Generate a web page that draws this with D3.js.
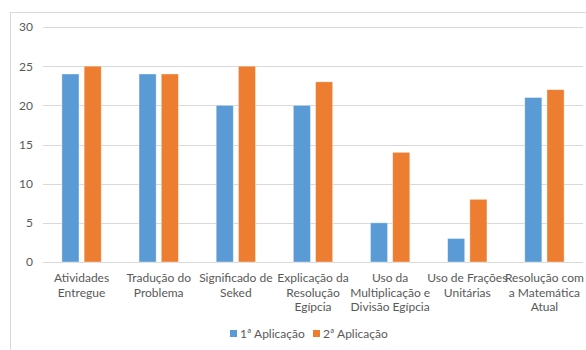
<!DOCTYPE html>
<html>
<head>
<meta charset="utf-8">
<script src="https://cdn.jsdelivr.net/npm/d3@7"></script>
<style>
  html, body { margin: 0; padding: 0; background: #fff; }
  svg { display: block; }
  text { font-family: Lato, "Open Sans", sans-serif; fill: #595959; }
</style>
</head>
<body>
<svg id="chart" width="586" height="350"></svg>
<script>
// Category labels (line breaks as displayed on the axis)
const categories = [
  ["Atividades", "Entregue"],
  ["Tradução do", "Problema"],
  ["Significado de", "Seked"],
  ["Explicação da", "Resolução", "Egípcia"],
  ["Uso da", "Multiplicação e", "Divisão Egípcia"],
  ["Uso de Frações", "Unitárias"],
  ["Resolução com", "a Matemática", "Atual"]
];
const seriesNames = ["1ª Aplicação", "2ª Aplicação"];
const aplicacao1 = [24, 24, 20, 20, 5, 3, 21];
const aplicacao2 = [25, 24, 25, 23, 14, 8, 22];
const yTicks = [0, 5, 10, 15, 20, 25, 30];
const colors = ["#5B9BD5", "#ED7D31"];

const svg = d3.select("#chart");
const W = 586, H = 350;
const margin = { left: 43, right: 3, top: 27, bottom: 88 };

// Chart frame
svg.append("rect")
  .attr("x", 10.5).attr("y", 12.5)
  .attr("width", W + 20).attr("height", H + 20)
  .attr("fill", "#fff").attr("stroke", "#D9D9D9").attr("stroke-width", 1);

const idx = d3.range(categories.length);
const x = d3.scaleBand().domain(idx).range([margin.left, W - margin.right])
  .paddingInner(0.49).paddingOuter(0.245);
const xs = d3.scaleBand().domain([0, 1]).range([0, x.bandwidth()]).paddingInner(0.23);
const y = d3.scaleLinear().domain([0, 30]).range([H - margin.bottom, margin.top]);

// Gridlines
svg.append("g").selectAll("line").data(yTicks).join("line")
  .attr("x1", margin.left).attr("x2", W - margin.right)
  .attr("y1", d => Math.round(y(d)) + 0.5).attr("y2", d => Math.round(y(d)) + 0.5)
  .attr("stroke", "#D9D9D9").attr("stroke-width", 1);

// Y tick labels
const yAxis = d3.axisLeft(y).tickValues(yTicks).tickSize(0).tickPadding(0);
const gy = svg.append("g").attr("transform", `translate(${margin.left - 10},0)`).call(yAxis);
gy.select(".domain").remove();
gy.selectAll("text").attr("font-size", 12).attr("fill", "#595959")
  .style("font-family", "Lato, 'Open Sans', sans-serif");

// Bars
const series = [aplicacao1, aplicacao2];
series.forEach((vals, s) => {
  svg.append("g").selectAll("rect").data(vals).join("rect")
    .attr("x", (d, i) => x(i) + xs(s))
    .attr("width", xs.bandwidth())
    .attr("y", d => y(d))
    .attr("height", d => y(0) - y(d))
    .attr("fill", colors[s])
    .attr("stroke", "#fff").attr("stroke-opacity", 0.5).attr("stroke-width", 0.75);
});

// X axis labels
const gx = svg.append("g");
categories.forEach((lines, i) => {
  const t = gx.append("text")
    .attr("x", x(i) + x.bandwidth() / 2)
    .attr("y", y(0) + 20)
    .attr("text-anchor", "middle")
    .attr("font-size", 12);
  lines.forEach((ln, k) => {
    t.append("tspan").attr("x", x(i) + x.bandwidth() / 2)
      .attr("dy", k === 0 ? 0 : 14.7).text(ln);
  });
});

// Legend
const legend = svg.append("g");
const legendItems = [{ x: 230 }, { x: 313 }];
seriesNames.forEach((name, s) => {
  const lx = legendItems[s].x;
  legend.append("rect").attr("x", lx).attr("y", 330)
    .attr("width", 7).attr("height", 7).attr("fill", colors[s]);
  legend.append("text").attr("x", lx + 10).attr("y", 338)
    .attr("font-size", 12).text(name);
});
</script>
</body>
</html>
